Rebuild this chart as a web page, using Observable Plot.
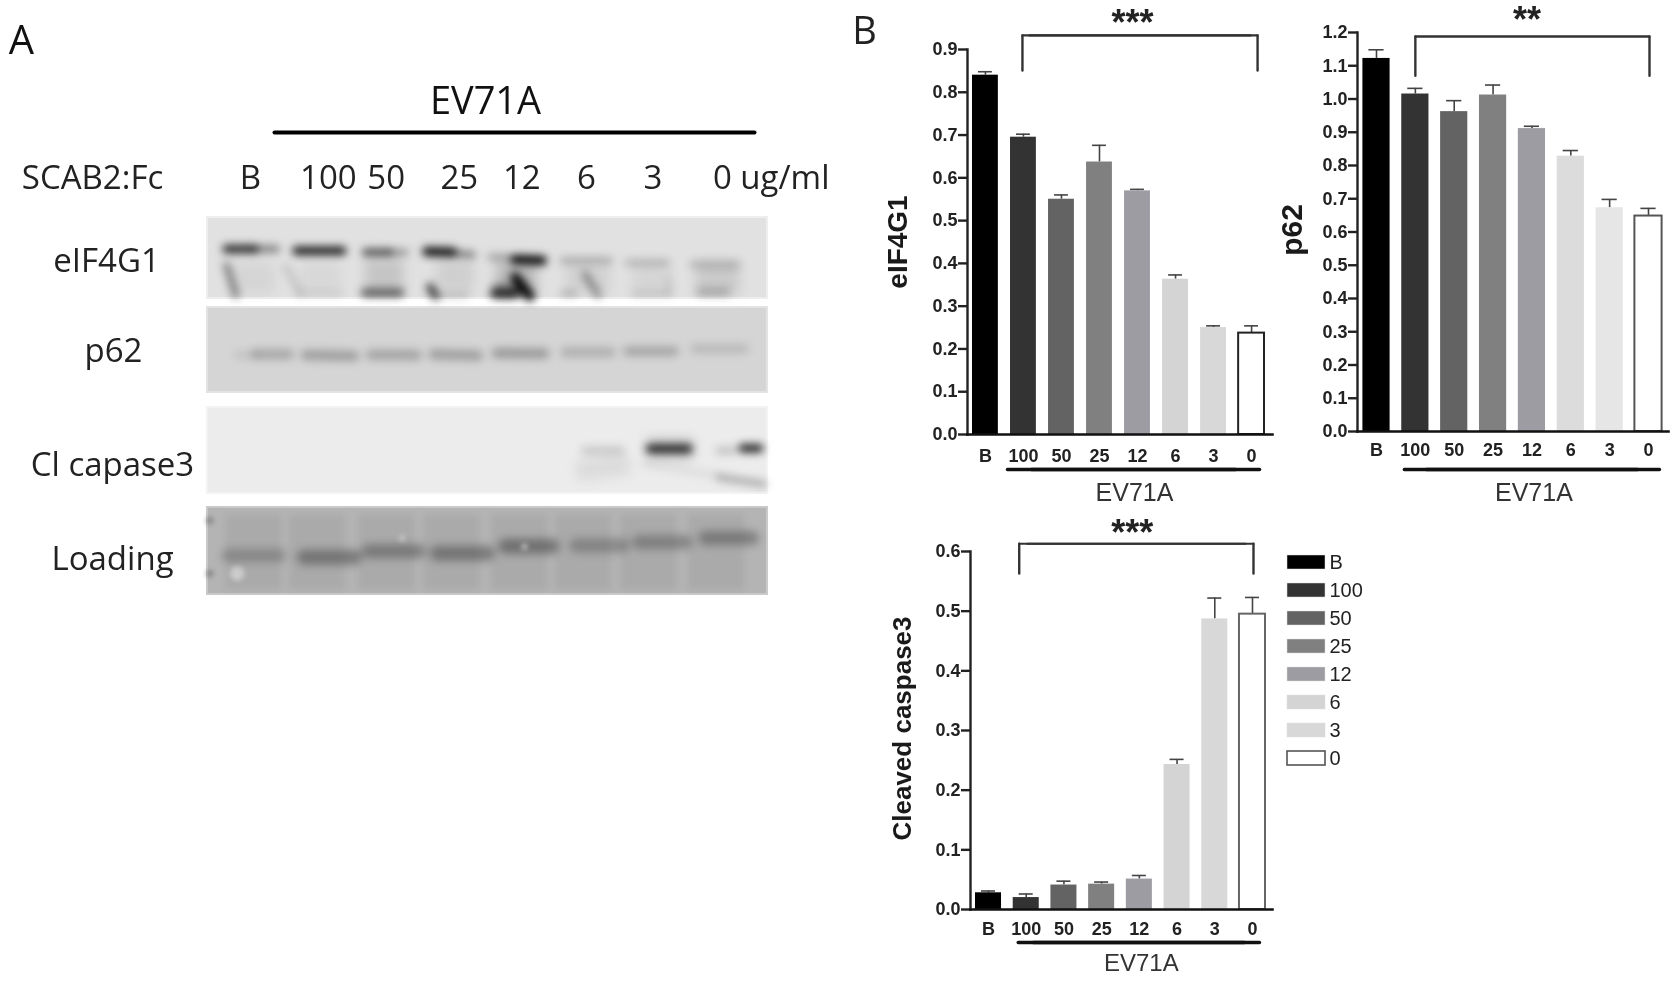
<!DOCTYPE html>
<html><head><meta charset="utf-8">
<style>
html,body{margin:0;background:#fff}
#page{position:relative;width:1678px;height:981px;overflow:hidden;background:#fff}
#page svg{position:absolute;filter:blur(.45px);background:transparent;max-width:none}
</style>
<script src="https://cdn.jsdelivr.net/npm/d3@7"></script>
<script src="https://cdn.jsdelivr.net/npm/@observablehq/plot@0.6"></script>
</head><body><div id="page"></div>
<script>
// ---------- data ----------
const lanes = ["B","100","50","25","12","6","3","0"];
const laneFill = ["#000000","#333333","#636363","#808080","#9c9ca2","#d4d4d4","#d8d8d8","#ffffff"];
const laneFillP62 = ["#000000","#333333","#636363","#808080","#9c9ca2","#dcdcdc","#e6e6e6","#ffffff"];

const eif4g1Mean = [0.84,0.695,0.55,0.637,0.5695,0.363,0.25,0.237];
const eif4g1Err  = [0.848,0.702,0.56,0.676,0.573,0.373,0.254,0.254];
const p62Mean = [1.122,1.015,0.962,1.012,0.911,0.828,0.673,0.648];
const p62Err  = [1.148,1.032,0.995,1.042,0.918,0.845,0.698,0.671];
const caspMean = [0.028,0.020,0.041,0.0425,0.051,0.243,0.487,0.495];
const caspErr  = [0.031,0.026,0.0475,0.046,0.057,0.2516,0.522,0.523];

const eif4g1Ticks = [0,0.1,0.2,0.3,0.4,0.5,0.6,0.7,0.8,0.9];
const p62Ticks = [0,0.1,0.2,0.3,0.4,0.5,0.6,0.7,0.8,0.9,1.0,1.1,1.2];
const caspTicks = [0,0.1,0.2,0.3,0.4,0.5,0.6];

// western blot: segments as [lane from, position from, lane to, position to, thickness, density]
const eif4g1Bands = [
  [-0.25,0.75,0.35,0.75,30,0.05],[0.75,0.75,1.35,0.75,30,0.04],[1.72,0.72,2.3,0.72,34,0.12],[2.8,0.72,3.35,0.72,30,0.08],
  [3.7,0.75,4.3,0.75,34,0.18],[4.75,0.75,5.4,0.75,30,0.07],[5.75,0.75,6.3,0.75,30,0.05],[6.7,0.75,7.35,0.75,32,0.1],
  [-0.36,0.39,0.06,0.39,8,0.72],[0.06,0.39,0.39,0.39,7,0.38],
  [0.69,0.41,1.38,0.41,8,0.78],
  [1.73,0.43,2.09,0.43,7,0.58],[2.09,0.43,2.33,0.43,6,0.32],
  [2.65,0.42,3.04,0.43,9,0.8],[3.04,0.44,3.34,0.46,6,0.42],
  [3.61,0.49,3.86,0.49,6,0.26],[3.97,0.52,4.39,0.53,9,0.85],
  [4.69,0.53,5.4,0.53,6,0.22],[5.67,0.56,6.26,0.56,6,0.18],[6.65,0.58,7.31,0.58,7,0.15],
  [-0.36,0.59,-0.22,0.96,7,0.36],[0.53,0.61,0.75,0.94,6,0.12],[0.72,0.94,1.36,0.94,6,0.07],
  [1.72,0.93,2.25,0.93,8,0.5],[2.7,0.86,2.78,0.97,8,0.6],[2.81,0.96,3.25,0.96,5,0.16],
  [3.67,0.94,3.98,0.94,9,0.7],[3.98,0.74,4.2,0.97,10,0.82],[3.7,0.88,4.1,0.88,11,0.26],
  [5.03,0.7,5.23,0.96,7,0.3],[4.7,0.94,4.87,0.94,6,0.18],[5.76,0.94,6.31,0.94,5,0.12],[6.29,0.74,6.29,0.93,5,0.09],[6.76,0.92,7.15,0.92,8,0.18]
];
const p62Bands = [
  [-0.2,0.56,0.08,0.56,6,0.09],[0.08,0.55,0.58,0.55,10,0.18],[0.83,0.56,1.56,0.57,10,0.22],[1.81,0.555,2.5,0.56,10,0.2],
  [2.75,0.55,3.42,0.565,10,0.22],[3.7,0.535,4.42,0.54,10,0.24],[4.73,0.526,5.42,0.526,9,0.16],[5.67,0.514,6.37,0.514,9,0.2],[6.68,0.486,7.43,0.486,9,0.11]
];
const cleavedBands = [
  [4.9,0.74,5.7,0.66,20,0.07],[5.03,0.5,5.56,0.5,8,0.13],[5.96,0.48,6.65,0.48,20,0.2],[6.0,0.481,6.59,0.481,7,0.8],
  [7.04,0.5,7.26,0.5,7,0.16],[7.4,0.473,7.65,0.473,8,0.75],[5.92,0.66,7.04,0.79,6,0.06],[7.04,0.81,7.72,0.89,6,0.26]
];
const loadingBands = [
  [-0.34,0.552,0.44,0.552,13,0.17],[0.81,0.571,1.56,0.571,15,0.26],[1.78,0.502,2.53,0.502,14,0.24],[2.81,0.525,3.56,0.525,15,0.26],
  [3.84,0.444,4.53,0.444,15,0.28],[4.9,0.437,5.59,0.437,14,0.19],[5.84,0.398,6.54,0.398,14,0.21],[6.84,0.352,7.54,0.352,14,0.24]
];
const loadingLaneShade = [0.04,1.0,2.04,3.02,4.04,5.0,5.98,7.0];
const loadingSpots = [[-0.2,0.76,9,"#cccccc"],[2.28,0.35,1.6,"#c8c8c8"],[4.12,0.45,1.6,"#c8c8c8"],[-0.61,0.15,2,"#808080"],[-0.61,0.76,2,"#808080"]];

const laneLabelAt = [0,1.17,2.04,3.14,4.08,5.05,6.05,7.83];
const laneLabels = ["B","100","50","25","12","6","3","0 ug/ml"];
const blotNames = ["eIF4G1","p62","Cl capase3","Loading"];

// ---------- layout ----------
const page = document.getElementById("page");
const place = (svg,left,top)=>{svg.style.left=left+"px";svg.style.top=top+"px";page.appendChild(svg);};
const arial = "'Liberation Sans',Arial,sans-serif";
const open = "'Open Sans','Noto Sans',sans-serif";

// ---------- panel A ----------
const rowsA = [
  {name:blotNames[0],top:217,h:81,fill:"#e1e1e1",edge:"#eeeeee",bands:eif4g1Bands,labelY:261,labelX:106},
  {name:blotNames[1],top:307,h:85,fill:"#d5d5d5",edge:"#e3e3e3",bands:p62Bands,labelY:351,labelX:113},
  {name:blotNames[2],top:407,h:86,fill:"#ececec",edge:"#f3f3f3",bands:cleavedBands,labelY:465,labelX:112},
  {name:blotNames[3],top:507,h:87,fill:"#b4b4b4",edge:"#c9c9c9",bands:loadingBands,labelY:559,labelX:112}
];
const segs = rowsA.flatMap(r=>r.bands.map(s=>({x1:s[0],y1:r.top+r.h*s[1],x2:s[2],y2:r.top+r.h*s[3],w:s[4],o:s[5]})));
const loadRow = rowsA[3];
const laneEdgeL = -0.647, laneEdgeR = 7.774;
const panelA = Plot.plot({
  width:840,height:620,margin:0,
  x:{type:"linear",domain:[0,7],range:[250,715.5],axis:null},
  y:{type:"linear",domain:[0,620],range:[0,620],axis:null},
  style:{fontFamily:open,fontSize:"33px",color:"#222",overflow:"visible"},
  marks:[
    Plot.rect(rowsA,{x1:()=>laneEdgeL,x2:()=>laneEdgeR,y1:"top",y2:r=>r.top+r.h,fill:"fill",stroke:"edge",strokeWidth:2}),
    Plot.link(loadingLaneShade,{x1:d=>d,x2:d=>d,y1:loadRow.top+7,y2:loadRow.top+loadRow.h-5,stroke:"#000",strokeWidth:56,strokeOpacity:0.05,imageFilter:"blur(3px)"}),
    Plot.link(segs.filter(s=>s.w>=20),{x1:"x1",y1:"y1",x2:"x2",y2:"y2",strokeWidth:"w",strokeOpacity:"o",stroke:"#000",imageFilter:"blur(6px)"}),
    Plot.link(segs.filter(s=>s.w<20),{x1:"x1",y1:"y1",x2:"x2",y2:"y2",strokeWidth:"w",strokeOpacity:d=>Math.min(1,d.o*1.2),stroke:"#000",strokeLinecap:"round",imageFilter:"blur(4px)"}),
    Plot.dot(loadingSpots,{x:d=>d[0],y:d=>loadRow.top+loadRow.h*d[1],r:d=>d[2],fill:d=>d[3],imageFilter:"blur(2.5px)"}),
    Plot.text(rowsA,{x:r=>(r.labelX-250)/66.5,y:"labelY",text:"name",fontSize:33,fill:"#222"}),
    Plot.text(["SCAB2:Fc"],{x:()=>(92-250)/66.5,y:()=>178,fontSize:33,fill:"#222"}),
    Plot.text(laneLabels,{x:(d,i)=>laneLabelAt[i],y:()=>178,fontSize:33,fill:"#222"}),
    Plot.text(["EV71A"],{x:()=>(485-250)/66.5,y:()=>101,fontSize:38,fill:"#111"}),
    Plot.text(["A"],{x:()=>(21-250)/66.5,y:()=>41,fontSize:40,fill:"#111"}),
    Plot.line([[274,132],[754,132]],{x:d=>(d[0]-250)/66.5,y:d=>d[1],stroke:"#000",strokeWidth:4})
  ]
});
place(panelA,0,0);

// ---------- panel B bar charts ----------
function barPanel(c){
  const table = lanes.map((lane,i)=>({lane,mean:c.mean[i],err:c.err[i]}));
  const span=(a,b,y,dy,dl,dr,sw,stroke)=>[
    Plot.line([{x:a,y},{x:b,y}],{x:"x",y:"y",dx:dl,dy,stroke,strokeWidth:sw}),
    Plot.line([{x:a,y},{x:b,y}],{x:"x",y:"y",dx:dr,dy,stroke,strokeWidth:sw})
  ];
  const svg = Plot.plot({
    width:c.width,height:c.height,marginTop:c.mt,marginBottom:c.mb,marginLeft:c.ml,marginRight:c.mr,
    style:{fontFamily:arial,fontSize:"18px",fontWeight:700,color:"#222",overflow:"visible"},
    x:{type:"band",domain:lanes,range:c.range,paddingInner:c.pad,paddingOuter:0,align:0.5,round:false,label:null},
    y:{domain:c.domain,label:null},
    color:{domain:lanes,range:c.fill},
    marks:[
      Plot.ruleX(table,{x:"lane",y1:"mean",y2:"err",stroke:"#444",strokeWidth:1.6}),
      Plot.tickY(table,{x:"lane",y:"err",stroke:"#444",strokeWidth:1.6,insetLeft:6,insetRight:6}),
      Plot.barY(table.filter(d=>d.lane!=="0"),{x:"lane",y:"mean",fill:"lane"}),
      Plot.barY(table.filter(d=>d.lane==="0"),{x:"lane",y:"mean",fill:"#fff",stroke:c.whiteEdge,strokeWidth:2}),
      Plot.axisY({ticks:c.ticks,tickFormat:".1f",tickSize:9,tickPadding:1,strokeWidth:2.4,stroke:"#222",label:null,marginLeft:c.ml}),
      Plot.frame({anchor:"left",stroke:"#222",strokeWidth:2.4}),
      Plot.frame({anchor:"bottom",stroke:"#111",strokeWidth:2.6}),
      Plot.axisX({tickSize:0,tickPadding:c.xpad,label:null}),
      Plot.text([c.title],{frameAnchor:"left",textAnchor:"middle",rotate:-90,dx:c.titleDx,dy:c.titleDy,fontSize:c.titleSize,fontWeight:700,fill:"#1a1a1a"}),
      // significance bracket
      ...span("100","0",c.brTop,0,c.brL,c.brR,2.2,"#333"),
      Plot.line([{x:"100",y:c.brLeg},{x:"100",y:c.brTop}],{x:"x",y:"y",dx:c.brL,stroke:"#333",strokeWidth:2.4}),
      Plot.line([{x:"0",y:c.brLeg},{x:"0",y:c.brTop}],{x:"x",y:"y",dx:c.brR,stroke:"#333",strokeWidth:2.4}),
      Plot.text([c.sig],{x:()=>"12",y:()=>c.domain[1],dx:c.sigDx,dy:c.sigDy,fontSize:36,fontWeight:700,fill:"#222"}),
      // EV71A group line
      ...span("100","0",0,c.ulDy,c.ulL,c.ulR,3.4,"#111"),
      Plot.text(["EV71A"],{x:()=>"12",y:()=>0,dx:c.evDx,dy:c.evDy,fontSize:c.evSize,fontWeight:400,fill:"#333"}),
      ...(c.extra||[])
    ]
  });
  place(svg,c.left,c.top);
}

barPanel({left:850,top:0,width:430,height:503,mt:49,mb:69,ml:117,mr:8,range:[122,414],pad:0.32,domain:[0,0.9],ticks:eif4g1Ticks,fill:laneFill,
  mean:eif4g1Mean,err:eif4g1Err,whiteEdge:"#222",xpad:15,title:"eIF4G1",titleDx:-69,titleDy:0,titleSize:28,
  brTop:0.933,brLeg:0.851,brL:-1,brR:6,sig:"***",sigDx:-5,sigDy:-26,ulDy:35,ulL:-16,ulR:8,evDx:-3,evDy:58,evSize:25,
  extra:[Plot.text(["B"],{frameAnchor:"top-left",textAnchor:"middle",lineAnchor:"middle",dx:-103,dy:-18,fontFamily:open,fontWeight:400,fontSize:38,fill:"#222"})]});
barPanel({left:1270,top:0,width:408,height:503,mt:32,mb:72,ml:87,mr:10,range:[92.4,391.6],pad:0.3,domain:[0,1.2],ticks:p62Ticks,fill:laneFillP62,
  mean:p62Mean,err:p62Err,whiteEdge:"#555",xpad:12,title:"p62",titleDx:-65,titleDy:-2,titleSize:30,
  brTop:1.188,brLeg:1.07,brL:0,brR:1,sig:"**",sigDx:-5,sigDy:-12,ulDy:38,ulL:-11,ulR:11,evDx:2,evDy:61,evSize:25});
barPanel({left:880,top:511,width:500,height:470,mt:40,mb:72,ml:90,mr:108,range:[95,385],pad:0.31,domain:[0,0.6],ticks:caspTicks,fill:laneFill,
  mean:caspMean,err:caspErr,whiteEdge:"#666",xpad:13,title:"Cleaved caspase3",titleDx:-68,titleDy:-2,titleSize:26,
  brTop:0.613,brLeg:0.563,brL:-7,brR:1,sig:"***",sigDx:-7,sigDy:-18,ulDy:33,ulL:-8,ulR:7,evDx:2,evDy:54,evSize:24});

// ---------- legend ----------
const legend = Plot.plot({
  width:100,height:238,margin:0,marginRight:62,
  style:{fontFamily:arial,fontSize:"20px",color:"#222",overflow:"visible"},
  y:{type:"band",domain:lanes,padding:0.5,axis:null},
  color:{domain:lanes,range:laneFill},
  marks:[
    Plot.cell(lanes,{y:d=>d,fill:d=>d,stroke:"#ddd",strokeWidth:0.5}),
    Plot.cell(lanes.filter(d=>d==="0"),{y:d=>d,fill:"#fff",stroke:"#555",strokeWidth:1.6}),
    Plot.text(lanes,{y:d=>d,frameAnchor:"left",textAnchor:"start",dx:42,text:d=>d,fill:"#222"})
  ]
});
place(legend,1287,541);
</script></body></html>
